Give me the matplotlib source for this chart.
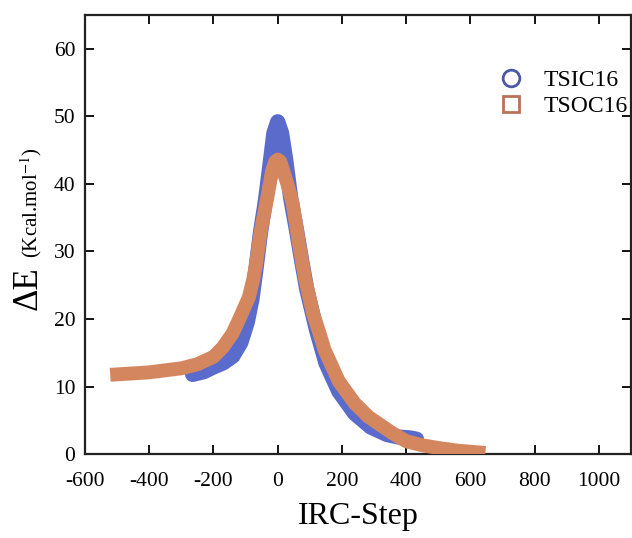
import matplotlib
matplotlib.use("Agg")
import matplotlib.pyplot as plt
from matplotlib.lines import Line2D

plt.rcParams['font.family'] = ['Liberation Serif', 'DejaVu Serif']
plt.rcParams['mathtext.fontset'] = 'stix'
plt.rcParams['axes.unicode_minus'] = False

# IRC energy profiles (x = IRC step, y = dE in kcal/mol)
tsic_x = [-265, -230, -200, -170, -140, -115, -95, -80, -67, -54, -38, -25, -12, 0,
          12, 25, 40, 59, 75, 90, 120, 150, 190, 240, 290, 340, 380, 410, 432]
tsic_y = [11.8, 12.2, 12.9, 13.5, 14.5, 16.5, 19.5, 23.0, 27.7, 32.7, 37.6, 42.5, 47.5, 49.2,
          47.5, 43.5, 38.0, 33.0, 28.5, 24.5, 18.5, 13.5, 9.3, 6.0, 4.0, 2.9, 2.5, 2.4, 2.2]

tsoc_x = [-500, -400, -300, -250, -200, -171, -140, -115, -90, -77, -69, -54, -34, -18, -8, 0,
          8, 18, 30, 47, 65, 85, 110, 130, 146, 190, 240, 283, 357, 400, 450, 500, 560, 625]
tsoc_y = [11.8, 12.1, 12.7, 13.3, 14.4, 15.8, 17.9, 20.5, 23.2, 25.7, 27.7, 32.7, 37.6, 41.8, 43.3, 43.6,
          43.3, 41.8, 40.0, 37.0, 31.5, 26.0, 20.8, 17.9, 15.4, 10.8, 7.5, 5.5, 3.1, 1.9, 1.3, 0.9, 0.5, 0.25]

labels = ['TSIC16', 'TSOC16']
blue = '#5a6bcb'
orange = '#d4875f'

fig = plt.figure(figsize=(6.32, 5.38), dpi=100)
ax = fig.add_axes([0.1345, 0.156, 0.864, 0.816])

ax.plot(tsic_x, tsic_y, color=blue, lw=11, solid_capstyle='round', solid_joinstyle='round', zorder=2)
ax.plot(tsoc_x, tsoc_y, color=orange, lw=10, solid_capstyle='projecting', solid_joinstyle='round', zorder=3)

ax.set_xlim(-600, 1100)
ax.set_ylim(0, 65)
ax.set_xticks(range(-600, 1001, 200))
ax.set_yticks(range(0, 61, 10))
ax.tick_params(direction='in', length=6.5, width=1.3, labelsize=15.5, top=True, right=True)
ax.tick_params(axis='x', pad=13)
ax.tick_params(axis='y', pad=7)
for s in ax.spines.values():
    s.set_linewidth(1.6)
    s.set_color('#222222')

ax.set_xlabel('IRC-Step', fontsize=23, labelpad=8)
fig.text(0.044, 0.465, 'ΔE', rotation=90, fontsize=25, ha='center', va='center')
fig.text(0.049, 0.623, r'(Kcal.mol$^{-1}$)', rotation=90, fontsize=15, ha='center', va='center')

handles = [
    Line2D([], [], ls='none', marker='o', ms=12, mfc='none', mec='#4d57a8', mew=2),
    Line2D([], [], ls='none', marker='s', ms=12, mfc='none', mec='#b9725a', mew=2),
]
ax.legend(handles, labels, loc='upper left', bbox_to_anchor=(0.715, 0.925), frameon=False,
          fontsize=17, handlelength=1.2, handletextpad=0.8, labelspacing=0.2)

fig.savefig('out.png', dpi=100)
